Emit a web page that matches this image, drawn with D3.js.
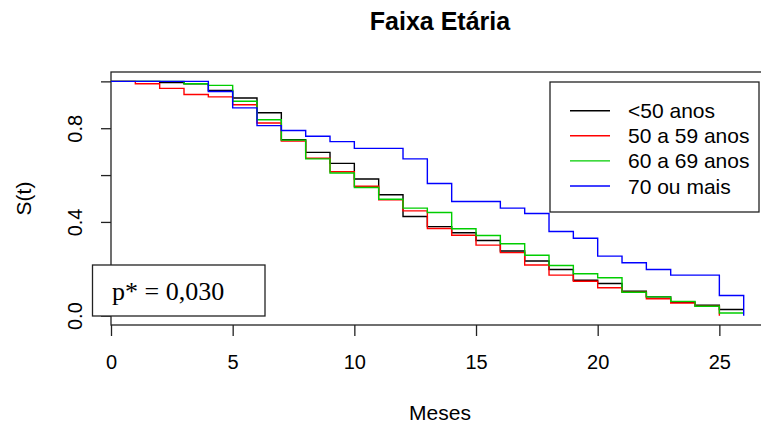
<!DOCTYPE html>
<html>
<head>
<meta charset="utf-8">
<script src="https://cdn.jsdelivr.net/npm/d3@7"></script>
<style>
	body { margin: 0; background: #fff; }
	svg { display: block; }
	text { font-family: "Liberation Sans", Arial, sans-serif; fill: #000; }
</style>
</head>
<body>
<div id="chart"></div>
<script>
'use strict';

// survival estimates per month (index = month)
var groups = ['<50 anos', '50 a 59 anos', '60 a 69 anos', '70 ou mais'];
var colors = ['#000000', '#ff0000', '#00cd00', '#0000ff'];

var survMenos50 = [1, 1, 0.995, 0.99, 0.961, 0.929, 0.866, 0.751, 0.697, 0.650,
	0.583, 0.516, 0.423, 0.380, 0.354, 0.321, 0.276, 0.233, 0.197, 0.151,
	0.137, 0.104, 0.080, 0.057, 0.044, 0.026, 0.026];
var surv50a59 = [1, 0.990, 0.970, 0.944, 0.934, 0.900, 0.822, 0.745, 0.672, 0.614,
	0.552, 0.494, 0.447, 0.372, 0.343, 0.301, 0.269, 0.216, 0.173, 0.147,
	0.119, 0.100, 0.072, 0.054, 0.040, 0];
var surv60a69 = [1, 1, 1, 0.99, 0.983, 0.915, 0.836, 0.749, 0.669, 0.609,
	0.547, 0.497, 0.459, 0.440, 0.371, 0.342, 0.307, 0.258, 0.214, 0.179,
	0.162, 0.100, 0.080, 0.061, 0.040, 0.011, 0.011];
var surv70mais = [1, 1, 1, 1, 0.957, 0.887, 0.811, 0.790, 0.766, 0.743,
	0.714, 0.714, 0.669, 0.564, 0.487, 0.487, 0.459, 0.436, 0.359, 0.330,
	0.254, 0.226, 0.197, 0.173, 0.173, 0.086, 0];

var xTicks = [0, 5, 10, 15, 20, 25];
var yTicks = [0, 0.2, 0.4, 0.6, 0.8, 1.0];
var yLabels = [0, 0.4, 0.8];
var pText = 'p* = 0,030';

var series = [survMenos50, surv50a59, surv60a69, surv70mais];

var W = 761, H = 432;
var margin = { left: 111, top: 72, bottom: 107 };

var svg = d3.select('#chart').append('svg')
	.attr('width', W)
	.attr('height', H);

var x = d3.scaleLinear()
	.domain([0, 26 * 1.04])
	.range([margin.left, 769]);
var y = d3.scaleLinear()
	.domain([-0.04, 1.04])
	.range([H - margin.bottom, margin.top]);

// title
svg.append('text')
	.attr('x', (margin.left + 769) / 2)
	.attr('y', 30)
	.attr('text-anchor', 'middle')
	.style('font-size', '25px')
	.style('font-weight', 'bold')
	.text('Faixa Etária');

// x axis
var xAxis = d3.axisBottom(x)
	.tickValues(xTicks)
	.tickSize(11)
	.tickSizeOuter(0)
	.tickPadding(0);
var gx = svg.append('g')
	.attr('transform', 'translate(0,' + y.range()[0] + ')')
	.call(xAxis);
gx.select('.domain').remove();
gx.selectAll('line').attr('stroke', '#222').attr('stroke-width', 1.3);
gx.selectAll('text')
	.attr('y', 44)
	.attr('dy', null)
	.style('font-size', '20px')
	.style('font-family', '"Liberation Sans", Arial, sans-serif');

// y axis
var yAxis = d3.axisLeft(y)
	.tickValues(yTicks)
	.tickSize(10)
	.tickSizeOuter(0)
	.tickFormat(function(d) {
		return yLabels.some(function(v) { return Math.abs(v - d) < 1e-9; }) ? d3.format('.1f')(d) : '';
	});
var gy = svg.append('g')
	.attr('transform', 'translate(' + margin.left + ',0)')
	.call(yAxis);
gy.select('.domain').remove();
gy.selectAll('line').attr('stroke', '#222').attr('stroke-width', 1.3);
gy.selectAll('text')
	.attr('x', null)
	.attr('dy', null)
	.attr('text-anchor', 'middle')
	.attr('transform', 'translate(-29,0) rotate(-90)')
	.style('font-size', '20px')
	.style('font-family', '"Liberation Sans", Arial, sans-serif');

// axis titles
svg.append('text')
	.attr('x', (margin.left + 769) / 2)
	.attr('y', 420)
	.attr('text-anchor', 'middle')
	.style('font-size', '21px')
	.text('Meses');
svg.append('text')
	.attr('transform', 'translate(31,' + (y.range()[0] + y.range()[1]) / 2 + ') rotate(-90)')
	.attr('text-anchor', 'middle')
	.style('font-size', '21px')
	.text('S(t)');

// plot box
svg.append('rect')
	.attr('x', x.range()[0])
	.attr('y', y.range()[1])
	.attr('width', x.range()[1] - x.range()[0])
	.attr('height', y.range()[0] - y.range()[1])
	.attr('fill', 'none')
	.attr('stroke', '#222')
	.attr('stroke-width', 1.3);

// survival curves
var line = d3.line()
	.x(function(d, i) { return x(i); })
	.y(function(d) { return y(d); })
	.curve(d3.curveStepAfter);

svg.append('g')
	.attr('class', 'curves')
	.selectAll('path')
	.data(series)
	.enter()
	.append('path')
		.attr('d', line)
		.attr('fill', 'none')
		.attr('stroke', function(d, i) { return colors[i]; })
		.attr('stroke-width', 1.4);

// legend
var legend = svg.append('g').attr('class', 'legend');
legend.append('rect')
	.attr('x', 550)
	.attr('y', 82)
	.attr('width', 209)
	.attr('height', 130)
	.attr('fill', '#fff')
	.attr('stroke', '#222')
	.attr('stroke-width', 1.3);
var rows = legend.selectAll('.row')
	.data(groups)
	.enter()
	.append('g')
		.attr('class', 'row')
		.attr('transform', function(d, i) { return 'translate(0,' + (110.7 + i * 25.1) + ')'; });
rows.append('line')
	.attr('x1', 570)
	.attr('x2', 610)
	.attr('stroke', function(d, i) { return colors[i]; })
	.attr('stroke-width', 1.4);
rows.append('text')
	.attr('x', 628)
	.attr('y', 7.5)
	.style('font-size', '21px')
	.text(function(d) { return d; });

// p-value box
svg.append('rect')
	.attr('x', 92.5)
	.attr('y', 265)
	.attr('width', 172.5)
	.attr('height', 51)
	.attr('fill', '#fff')
	.attr('stroke', '#222')
	.attr('stroke-width', 1.3);
svg.append('text')
	.attr('x', 112)
	.attr('y', 299.5)
	.style('font-family', '"Liberation Serif", "Times New Roman", serif')
	.style('font-size', '26px')
	.text(pText);
</script>
</body>
</html>
